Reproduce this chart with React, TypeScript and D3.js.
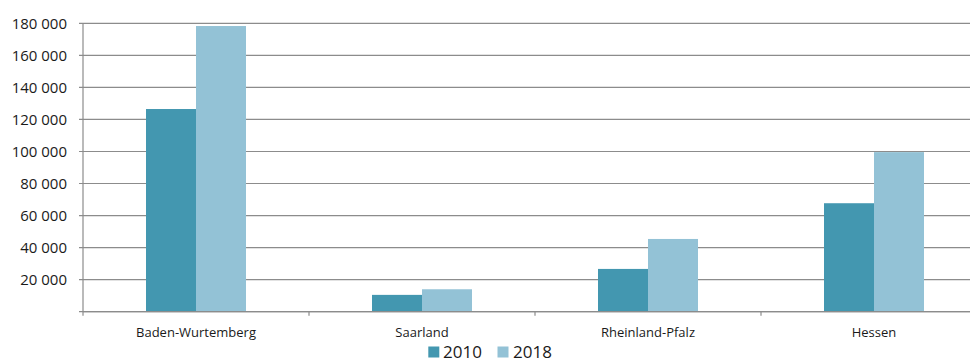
import React from "react";
import * as d3 from "d3";

// Data
const categories = ["Baden-Wurtemberg", "Saarland", "Rheinland-Pfalz", "Hessen"];
const seriesNames = ["2010", "2018"];
const values2010 = [126500, 10500, 26700, 67700];
const values2018 = [178300, 14000, 45400, 99600];
const yTickValues = [0, 20000, 40000, 60000, 80000, 100000, 120000, 140000, 160000, 180000];

const colors: Record<string, string> = { "2010": "#4397b0", "2018": "#93c2d6" };

const W = 970;
const H = 362;
const left = 83;
const top = 23.3;
const bottom = 311.7;
const bandW = 226;

const FONT = "'Open Sans', 'Noto Sans', sans-serif";

export default function App() {
  const x = d3
    .scaleBand<string>()
    .domain(categories)
    .range([left, left + bandW * categories.length])
    .paddingInner(0)
    .paddingOuter(0);
  const xs = d3
    .scaleBand<string>()
    .domain(seriesNames)
    .range([0, x.bandwidth()])
    .paddingInner(0)
    .paddingOuter(1.26);
  const y = d3.scaleLinear().domain([0, 180000]).range([bottom, top]);

  const fmt = (v: number) => (v === 0 ? "" : d3.format(",")(v).replace(/,/g, " "));
  const seriesValues: Record<string, number[]> = { "2010": values2010, "2018": values2018 };
  const boundaries = categories.map((c) => x(c) as number).concat([left + bandW * categories.length]);

  return (
    <svg
      width={W}
      height={H}
      style={{ position: "absolute", left: 0, top: 0, background: "#fff" }}
      fontFamily={FONT}
    >
      <rect width={W} height={H} fill="#fff" />
      {/* gridlines + y ticks */}
      {yTickValues.map((t) => (
        <g key={t}>
          <line x1={left - 4} x2={W} y1={y(t)} y2={y(t)} stroke="#8c8c8c" strokeWidth={1.2} />
          <text
            x={67}
            y={y(t)}
            dy="0.36em"
            textAnchor="end"
            fontSize={15}
            fill="#1a1a1a"
          >
            {fmt(t)}
          </text>
        </g>
      ))}
      {/* bars */}
      {categories.map((c, i) => (
        <g key={c} transform={`translate(${x(c)},0)`}>
          {seriesNames.map((s) => (
            <rect
              key={s}
              x={xs(s)}
              y={y(seriesValues[s][i])}
              width={xs.bandwidth()}
              height={bottom - y(seriesValues[s][i])}
              fill={colors[s]}
            />
          ))}
        </g>
      ))}
      {/* axes */}
      <line x1={left} x2={left} y1={top} y2={bottom} stroke="#8c8c8c" strokeWidth={1.2} />
      <line x1={left} x2={W} y1={bottom} y2={bottom} stroke="#8c8c8c" strokeWidth={1.2} />
      {boundaries.map((b, i) => (
        <line key={i} x1={b} x2={b} y1={bottom} y2={bottom + 4} stroke="#8c8c8c" strokeWidth={1.2} />
      ))}
      {categories.map((c) => (
        <text
          key={c}
          x={(x(c) as number) + x.bandwidth() / 2}
          y={336.5}
          textAnchor="middle"
          fontSize={13}
          fill="#1a1a1a"
        >
          {c}
        </text>
      ))}
      {/* legend */}
      <g>
        <rect x={428.3} y={346.5} width={11} height={11} fill={colors["2010"]} />
        <text x={443} y={357.5} fontSize={17} fill="#1a1a1a">
          2010
        </text>
        <rect x={497.5} y={346.5} width={11} height={11} fill={colors["2018"]} />
        <text x={513} y={357.5} fontSize={17} fill="#1a1a1a">
          2018
        </text>
      </g>
    </svg>
  );
}
